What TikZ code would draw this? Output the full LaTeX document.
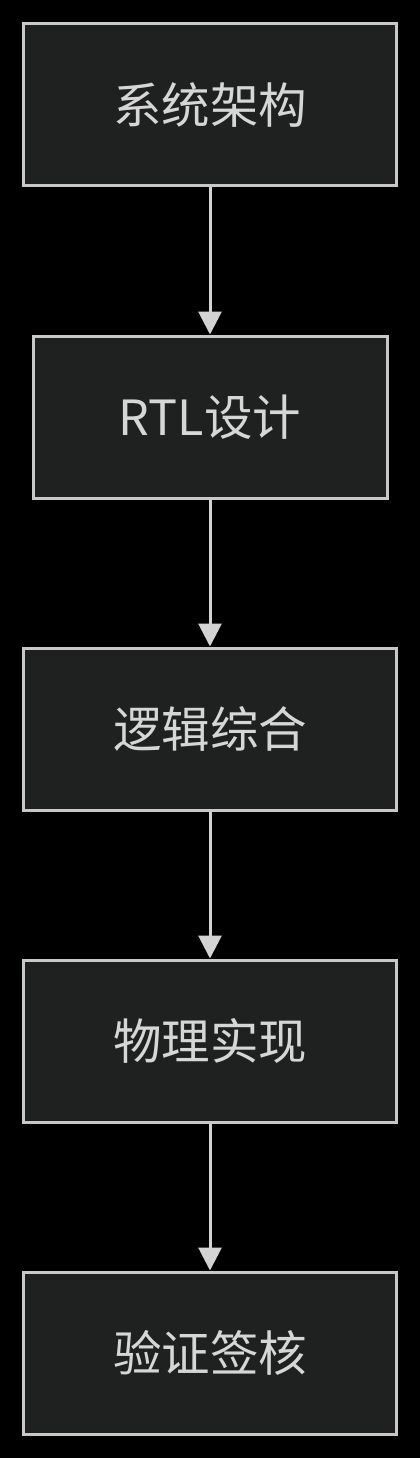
\documentclass[tikz,border=0pt]{standalone}
\usepackage{fontspec}
\setmainfont{Noto Sans CJK SC}
\usetikzlibrary{arrows.meta}
\definecolor{bg}{HTML}{000000}
\definecolor{boxfill}{HTML}{1F2020}
\definecolor{boxline}{HTML}{C8C8C8}
\definecolor{txt}{HTML}{D6D6D6}
\definecolor{arrowc}{HTML}{D3D3D3}
\tikzset{
  stepbox/.style={draw=boxline, fill=boxfill, line width=3pt, minimum height=162pt,
    inner sep=0pt, text=txt, font=\fontsize{48.5}{52}\selectfont},
  flow/.style={draw=arrowc, line width=3pt, -{Triangle[width=23pt,length=23pt]}}
}
\begin{document}
\begin{tikzpicture}[x=1pt,y=-1pt]
\fill[bg] (0,0) rectangle (420,1458);
\useasboundingbox (0,0) rectangle (420,1458);
\node[stepbox, minimum width=373pt] (b1) at (210,104.5) {系统架构};
\node[stepbox, minimum width=354pt] (b2) at (210,417) {RTL设计};
\node[stepbox, minimum width=373pt] (b3) at (210,729) {逻辑综合};
\node[stepbox, minimum width=373pt] (b4) at (210,1041) {物理实现};
\node[stepbox, minimum width=373pt] (b5) at (210,1353) {验证签核};
\draw[flow] (b1.south) -- (b2.north);
\draw[flow] (b2.south) -- (b3.north);
\draw[flow] (b3.south) -- (b4.north);
\draw[flow] (b4.south) -- (b5.north);
\end{tikzpicture}
\end{document}
